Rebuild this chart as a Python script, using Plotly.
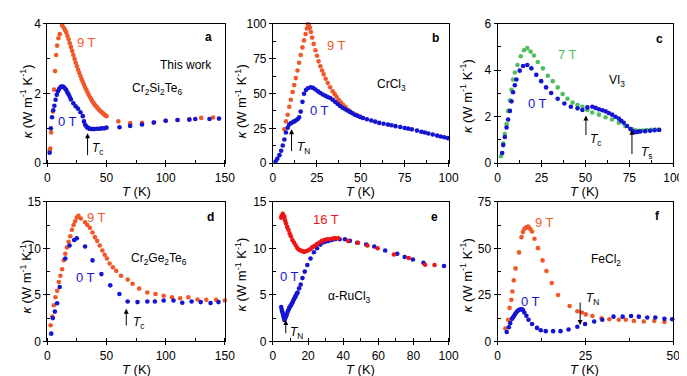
import plotly.graph_objects as go

# ---------------- data ----------------
# a: Cr2Si2Te6
a_T9 = [2, 2.5, 3.3, 4.7, 5.8, 6.6, 7.5, 8.3, 9.4, 10.5, 12.5, 14, 15, 16, 17, 18, 19, 20, 21, 22, 23, 24, 25, 26, 27, 28, 29, 30,
        31, 32, 33, 34, 35, 36, 37, 38, 39, 40, 41, 42, 43, 44, 45, 46, 47, 48, 49, 50, 60, 70, 80, 90, 100, 110, 120, 130, 140]
a_K9 = [0.36, 0.42, 0.88, 1.48, 2.11, 2.64, 3.1, 3.37, 3.58, 3.7, 3.95, 3.88, 3.82, 3.75, 3.65, 3.55, 3.44, 3.33, 3.22, 3.1, 2.99, 2.88, 2.78,
        2.68, 2.59, 2.5, 2.41, 2.33, 2.25, 2.17, 2.1, 2.03, 1.96, 1.9, 1.84, 1.78, 1.73, 1.68, 1.64, 1.6, 1.56, 1.52, 1.49, 1.46,
        1.43, 1.4, 1.37, 1.35, 1.2, 1.15, 1.16, 1.17, 1.22, 1.24, 1.26, 1.3, 1.31]
a_T0 = [2, 3, 4, 5, 6, 7, 8, 9, 10, 11, 12, 13, 14, 15, 16, 17, 18, 19, 20, 22, 24, 26, 28, 30, 31, 32, 33, 34, 35, 36, 37, 38,
        39, 40, 42, 44, 46, 48, 50, 61, 70, 80, 90, 100, 110, 120, 125, 137, 145]
a_K0 = [0.3, 1.0, 1.32, 1.52, 1.65, 1.82, 1.96, 2.06, 2.13, 2.18, 2.2, 2.2, 2.18, 2.14, 2.1, 2.03, 1.97, 1.9, 1.83, 1.72, 1.63, 1.56,
        1.46, 1.35, 1.2, 1.1, 1.05, 1.02, 1.0, 0.99, 0.98, 0.98, 0.98, 0.98, 0.99, 0.99, 1.0, 1.0, 1.02, 1.03, 1.07, 1.11, 1.17,
        1.22, 1.24, 1.25, 1.27, 1.27, 1.28]

# b: CrCl3
b_T9 = [6.5, 7.4, 8.4, 9.3, 10.2, 11.2, 12.1, 13, 14, 14.9, 15.8, 16.8, 17.7, 18.6, 19.3, 19.9, 20.5, 21, 21.6, 22.3, 23.2, 24.2,
        25.1, 26, 27, 28, 28.9, 30, 31.2, 32.6, 34, 35.2, 36.3, 37.5, 38.8, 40, 41.4, 42.8, 44, 45.5, 47.5, 49.2, 51.2]
b_K9 = [24.3, 30, 34.7, 40.5, 45.5, 51, 56, 61, 66.5, 72, 77.5, 83, 88, 92.6, 96.5, 99.5, 98.5, 97, 94, 90, 85.5, 81, 77, 73, 69.5,
        66.5, 63.7, 60.5, 57.5, 54.4, 51.5, 49.5, 47.5, 45.3, 43.5, 41.7, 40, 38.2, 37, 35.8, 34.7, 33.5, 32.4]
b_T0 = [1.5, 2.5, 3.7, 4.7, 5.6, 6.5, 7.4, 8.4, 9.3, 10.2, 11.2, 12.1, 13, 14, 14.9, 15.8, 16.8, 17.7, 18.8, 19.9, 21.4, 22.8, 24.2,
        25.6, 27, 28.4, 29.8, 31.2, 32.6, 34, 35.4, 36.8, 38.2, 39.6, 41, 42.4, 43.8, 45.2, 46.6, 48, 49.6, 51.2, 53.5, 56, 58.2,
        60.5, 63, 65.5, 67.5, 69.8, 72.5, 75, 77, 79.1, 82, 84.5, 86.5, 88.5, 91, 93.5, 95.5, 97.5, 99.6]
b_K0 = [1.2, 3.2, 5.8, 9, 12.7, 17, 22, 25.5, 27.8, 28.7, 29.4, 30, 30.6, 31.5, 32.9, 37, 44, 49.8, 52.5, 53.7, 54.4, 54, 52.8,
        51.5, 50.3, 49.3, 48.3, 47.5, 46.8, 45.5, 44, 42.5, 41, 39.8, 38.8, 37.8, 36.8, 35.8, 34.8, 34, 33.2, 32.4, 31.5, 30.6,
        29.8, 28.9, 28.3, 27.7, 27.2, 26.6, 26, 25.3, 24.8, 24.3, 23.4, 22.6, 22, 21.3, 20.6, 19.8, 19.2, 18.6, 18]

# c: VI3
c_T7 = [1.9, 3.2, 4.1, 5.1, 6, 7, 7.9, 8.8, 9.8, 11.3, 13.2, 15, 16.9, 18.8, 20.7, 22.9, 25.8, 28.6, 31.4, 34.2, 37, 39.8, 42.7,
        45.5, 48.3, 51.1, 53.9, 57.7, 61.5, 65.2, 69, 72.7, 76.5, 78.5, 80.3, 82.5, 85, 87.5, 89.7, 92]
c_K7 = [0.3, 0.85, 1.26, 1.68, 2.25, 2.7, 3.16, 3.6, 3.9, 4.22, 4.6, 4.86, 4.95, 4.8, 4.63, 4.35, 4.08, 3.76, 3.53, 3.26, 2.98,
        2.77, 2.61, 2.5, 2.43, 2.29, 2.18, 2.09, 1.98, 1.88, 1.74, 1.6, 1.47, 1.42, 1.4, 1.41, 1.43, 1.44, 1.45, 1.45]
c_T0 = [2.6, 3.2, 4.1, 5.1, 6, 7, 7.9, 8.8, 9.8, 10.7, 12.6, 14.5, 16.9, 19.2, 22, 24.8, 27.6, 30.5, 34.2, 38, 41.7, 45.5, 48.3,
        51.1, 53.9, 55.8, 57.7, 59.6, 61.5, 63.3, 65.2, 67.1, 69, 70.4, 71.8, 73.7, 75.6, 77, 78.4, 79.8, 81.2, 84, 86.8, 89.4, 92]
c_K0 = [0.44, 0.78, 1.13, 1.54, 1.88, 2.25, 2.66, 3.05, 3.35, 3.6, 3.98, 4.18, 4.22, 4.08, 3.8, 3.53, 3.26, 3.02, 2.77, 2.57, 2.43,
        2.36, 2.29, 2.4, 2.43, 2.38, 2.32, 2.28, 2.23, 2.16, 2.09, 2.0, 1.92, 1.83, 1.74, 1.6, 1.47, 1.38, 1.33, 1.35, 1.37, 1.38,
        1.4, 1.42, 1.43]

# d: Cr2Ge2Te6
d_T9 = [2.8, 4.2, 5.5, 6.9, 8.3, 9.7, 11.1, 12.5, 13.9, 15.2, 16.6, 18, 19.4, 20.8, 22.2, 23.5, 24.9, 26.3, 28.3, 31.9, 33.8, 36,
        38.2, 40.2, 42.1, 44.3, 46.5, 48.5, 50.4, 52.6, 55.4, 58.2, 62.3, 67.9, 72, 77.6, 84.5, 91.4, 98.3, 105.3, 112.2, 119.1,
        126.9, 134.3, 142.6, 150]
d_K9 = [1.73, 2.66, 3.88, 4.74, 5.43, 6.37, 7.06, 7.75, 8.72, 9.41, 10.1, 10.7, 11.3, 12, 12.5, 12.9, 13.3, 13.5, 13.2, 12.8, 12.5,
        12.2, 11.7, 11.2, 10.8, 10.3, 9.76, 9.3, 8.9, 8.37, 7.96, 7.58, 7.06, 6.64, 6.19, 5.67, 5.26, 5.09, 4.91, 4.74, 4.64, 4.74,
        4.5, 4.46, 4.46, 4.39]
d_T0 = [3.3, 4.7, 6.4, 8.3, 10.5, 15.2, 18.8, 22.7, 24.9, 31.9, 38.2, 45.7, 53.2, 60.9, 67.9, 76.2, 84.5, 90.9, 98.3, 106.6, 114,
        121.9, 129.6, 137.9, 144.6]
d_K0 = [0.83, 2.5, 3.2, 4.1, 5.85, 8.9, 10.3, 10.9, 11.07, 10.2, 8.7, 7.23, 6.02, 5.09, 4.29, 4.22, 4.29, 4.29, 4.39, 4.39, 4.15,
        4.29, 4.22, 4.12, 4.22]

# e: alpha-RuCl3
e_T16 = [4.7, 5.0, 5.3, 5.6, 5.9, 6.2, 6.5, 6.9, 7.4, 8.1, 8.8, 9.5, 10.2, 11.1, 12.1, 13, 14, 14.9, 15.8, 16.8, 17.7, 18.8, 19.9,
         21.1, 22.3, 23.7, 25.1, 26.5, 27.9, 29.3, 30.7, 32.6, 34.5, 35.8, 37.2, 42.8, 48.4, 53.8, 59.6, 68.9, 77.3, 86.6, 92]
e_K16 = [13.3, 13.5, 13.4, 13.7, 13.5, 13.3, 13.4, 13.0, 12.7, 12.3, 12.0, 11.6, 11.3, 10.9, 10.6, 10.3, 10.0, 9.85, 9.76, 9.68,
         9.62, 9.68, 9.76, 9.9, 10.1, 10.27, 10.45, 10.62, 10.8, 10.9, 10.97, 11.0, 11.07, 11.07, 11.07, 10.8, 10.6, 10.3, 10.0,
         9.34, 8.96, 8.24, 8.2]
e_T0 = [4.7, 5.0, 5.3, 5.6, 5.9, 6.2, 6.5, 6.9, 7.4, 7.9, 8.4, 8.9, 9.3, 9.8, 10.2, 10.7, 11.2, 11.6, 12.1, 12.6, 13, 13.5, 14,
        14.9, 15.8, 16.8, 18.1, 19.6, 21.4, 23.3, 25.1, 27, 28.9, 30.3, 31.7, 33.5, 35.4, 38, 41, 43.8, 48, 53.1, 57.7, 63.9,
        70.8, 75, 79.7, 85.7, 97.4]
e_K0 = [3.7, 3.4, 3.2, 3.0, 2.75, 2.5, 2.3, 2.45, 2.66, 2.9, 3.18, 3.4, 3.6, 3.75, 3.88, 4.05, 4.2, 4.4, 4.57, 4.75, 4.9, 5.1, 5.26,
        5.7, 6.1, 6.8, 7.5, 8.2, 8.9, 9.58, 10.0, 10.4, 10.66, 10.75, 10.8, 10.9, 10.97, 10.97, 10.97, 10.8, 10.6, 10.4, 10.2, 9.76,
        9.41, 9.06, 8.79, 8.44, 8.1]

# f: FeCl2
f_T9 = [2.2, 3.0, 3.4, 3.9, 4.2, 4.6, 5.1, 6.1, 6.8, 7.2, 7.6, 8.0, 8.3, 8.6, 8.8, 9.3, 9.8, 10.5, 11.5, 12.8, 13.9, 15.4, 17.2,
        20.5, 22.7, 24.0, 25.1, 27.0, 29.6, 31.8, 34.5, 36.5, 38.8, 41.6, 44.6, 47.5]
f_K9 = [6.9, 11.6, 18, 22.3, 26.8, 32.8, 39.2, 47.8, 56, 58.7, 60.4, 61, 61.3, 61.5, 61.5, 60.4, 59, 55.1, 50.1, 43.5, 37.8, 31.4,
        24.9, 19, 16.2, 15.5, 14.5, 13.6, 12.4, 11.9, 11.6, 11.6, 11, 10.7, 11, 10.4]
f_T0 = [2.6, 3.2, 3.6, 4.1, 4.4, 4.7, 5.0, 5.3, 5.6, 6.0, 6.5, 6.9, 7.2, 7.6, 8.2, 8.8, 9.8, 11.2, 12.3, 13.7, 15.8, 17.9, 20.2,
        22.7, 24.9, 27.5, 29.8, 33, 35.6, 38, 40.2, 42.6, 44.9, 47.5, 49.7]
f_K0 = [5, 7.6, 9.8, 12.1, 13.0, 13.8, 14.7, 15.5, 16.2, 16.8, 17.3, 17.2, 16.8, 15.5, 13.8, 11.6, 9.3, 7.25, 6.0, 5.5, 5.5, 5.5,
        6.4, 7.9, 9.3, 10.7, 11.6, 13.3, 13.3, 13.6, 13.3, 12.8, 12.8, 12.1, 11.9]

ORANGE = "#F0582A"
BLUE = "#1414D2"
GREEN = "#4FBF5E"
RED = "#EE1515"
FONT = "Arial, Liberation Sans, sans-serif"

W, H = 687, 376


def px_x(p):
    return p / W


def px_y(p):
    return 1 - p / H


panels = [
    # (xdomain px, ydomain px, xrange, xticks, yrange, yticks)
    ((37, 218), (9, 154), [0, 150], [0, 50, 100, 150], [0, 4], [0, 2, 4]),
    ((267, 446), (9, 154), [0, 100], [0, 25, 50, 75, 100], [0, 100], [0, 25, 50, 75, 100]),
    ((496, 675), (9, 154), [0, 100], [0, 25, 50, 75, 100], [0, 6], [0, 2, 4, 6]),
    ((37, 218), (194, 339), [0, 150], [0, 50, 100, 150], [0, 15], [0, 5, 10, 15]),
    ((267, 446), (194, 339), [0, 100], [0, 20, 40, 60, 80, 100], [0, 15], [0, 5, 10, 15]),
    ((496, 675), (194, 339), [0, 50], [0, 25, 50], [0, 75], [0, 25, 50, 75]),
]
# axis-title pixel positions: (x-title center x, x-title y, y-title x, y-title y)
titles = [
    (128, 183, 15, 90),
    (356, 183, 234, 90),
    (585, 183, 464, 84),
    (128, 368, 15, 272),
    (356, 368, 234, 270),
    (585, 368, 464, 270),
]

series = [
    [(a_T9, a_K9, ORANGE), (a_T0, a_K0, BLUE)],
    [(b_T9, b_K9, ORANGE), (b_T0, b_K0, BLUE)],
    [(c_T7, c_K7, GREEN), (c_T0, c_K0, BLUE)],
    [(d_T9, d_K9, ORANGE), (d_T0, d_K0, BLUE)],
    [(e_T0, e_K0, BLUE), (e_T16, e_K16, RED)],
    [(f_T9, f_K9, ORANGE), (f_T0, f_K0, BLUE)],
]

fig = go.Figure()
layout = dict(width=W, height=H, margin=dict(l=0, r=0, t=0, b=0), paper_bgcolor="white", plot_bgcolor="white",
              showlegend=False, font=dict(family=FONT, size=12, color="black"))

YTITLE = "<i>κ</i> (W m<sup>-1</sup> K<sup>-1</sup>)"
XTITLE = "<i>T</i> (K)"

anns = []

for i, (xd, yd, xr, xt, yr, yt) in enumerate(panels):
    n = "" if i == 0 else str(i + 1)
    xa = dict(domain=[px_x(xd[0]), px_x(xd[1])], range=xr, tickvals=xt, showline=True, mirror=True, linecolor="black",
              linewidth=1, ticks="outside", ticklen=3, tickcolor="black", showgrid=False, zeroline=False,
              anchor="y" + n, tickfont=dict(size=12),
              minor=dict(ticks="inside", ticklen=3, tickcolor="black", dtick=(xt[1] - xt[0]) / 2, tick0=0, showgrid=False))
    ya = dict(domain=[px_y(yd[1]), px_y(yd[0])], range=yr, tickvals=yt, showline=True, mirror=True, linecolor="black",
              linewidth=1, ticks="outside", ticklen=3, tickcolor="black", showgrid=False, zeroline=False,
              anchor="x" + n, tickfont=dict(size=12),
              minor=dict(ticks="inside", ticklen=3, tickcolor="black", dtick=(yt[1] - yt[0]) / 2, tick0=0, showgrid=False))
    layout["xaxis" + n] = xa
    layout["yaxis" + n] = ya
    tx, ty, yx, yy = titles[i]
    anns.append(dict(x=px_x(tx), y=px_y(ty), xref="paper", yref="paper", text=XTITLE, showarrow=False,
                     font=dict(size=13, family=FONT), xanchor="center", yanchor="middle"))
    anns.append(dict(x=px_x(yx), y=px_y(yy), xref="paper", yref="paper", text=YTITLE, showarrow=False, textangle=-90,
                     font=dict(size=13, family=FONT), xanchor="center", yanchor="middle"))
    for (xs, ys, col) in series[i]:
        fig.add_trace(go.Scatter(x=xs, y=ys, mode="markers", xaxis="x" + n, yaxis="y" + n,
                                 marker=dict(color=col, size=4.6, line=dict(width=0)), cliponaxis=False))


def txt(ax, x, y, text, color="black", size=12, xanchor="center"):
    n = "" if ax == 1 else str(ax)
    anns.append(dict(x=x, y=y, xref="x" + n, yref="y" + n, text=text, showarrow=False,
                     font=dict(color=color, size=size, family=FONT), xanchor=xanchor, yanchor="middle"))


def arrow(ax, x, y0, y1):
    n = "" if ax == 1 else str(ax)
    anns.append(dict(x=x, y=y1, ax=x, ay=y0, xref="x" + n, yref="y" + n, axref="x" + n, ayref="y" + n, text="",
                     showarrow=True, arrowhead=2, arrowsize=1, arrowwidth=1, arrowcolor="black"))


# a
txt(1, 33, 3.45, "9 T", ORANGE, 13)
txt(1, 117, 2.81, "This work")
txt(1, 92.5, 2.12, "Cr<sub>2</sub>Si<sub>2</sub>Te<sub>6</sub>")
txt(1, 16.7, 1.21, "0 T", BLUE, 13)
arrow(1, 34, 0.19, 0.86)
txt(1, 36, 0.42, "<i>T</i><sub>c</sub>", xanchor="left")
txt(1, 136, 3.61, "<b>a</b>")
# b
txt(2, 36.3, 84.7, "9 T", ORANGE, 13)
txt(2, 67.6, 56, "CrCl<sub>3</sub>")
txt(2, 26.3, 38, "0 T", BLUE, 13)
arrow(2, 10.6, 7.6, 24.3)
txt(2, 12.3, 11, "<i>T</i><sub>N</sub>", xanchor="left")
txt(2, 92.7, 89.6, "<b>b</b>")
# c
txt(3, 39.7, 4.69, "7 T", GREEN, 13)
txt(3, 68.2, 3.53, "VI<sub>3</sub>")
txt(3, 22.9, 2.55, "0 T", BLUE, 13)
arrow(3, 50.3, 1.15, 2.05)
txt(3, 51.4, 0.99, "<i>T</i><sub>c</sub>", xanchor="left")
arrow(3, 76.5, 0.33, 1.44)
txt(3, 80.4, 0.45, "<i>T</i><sub>s</sub>", xanchor="left")
txt(3, 92.2, 5.34, "<b>c</b>")
# d
txt(4, 41.7, 13.3, "9 T", ORANGE, 13)
txt(4, 94, 8.9, "Cr<sub>2</sub>Ge<sub>2</sub>Te<sub>6</sub>")
txt(4, 32.5, 6.9, "0 T", BLUE, 13)
arrow(4, 66.7, 1.55, 3.5)
txt(4, 70.8, 1.97, "<i>T</i><sub>c</sub>", xanchor="left")
txt(4, 137.5, 13.4, "<b>d</b>")
# e
txt(5, 30.2, 13.1, "16 T", RED, 13)
txt(5, 9.5, 7.0, "0 T", BLUE, 13)
txt(5, 43.6, 4.76, "α-RuCl<sub>3</sub>")
arrow(5, 7.3, 0.72, 2.3)
txt(5, 8.4, 0.93, "<i>T</i><sub>N</sub>", xanchor="left")
txt(5, 92.2, 13.4, "<b>e</b>")
# f
txt(6, 13.4, 63.6, "9 T", ORANGE, 13)
txt(6, 31, 43.5, "FeCl<sub>2</sub>")
txt(6, 9.5, 21.2, "0 T", BLUE, 13)
arrow(6, 23.5, 21.7, 8.8)
txt(6, 24.6, 22.5, "<i>T</i><sub>N</sub>", xanchor="left")
txt(6, 45.5, 67.3, "<b>f</b>")

layout["annotations"] = anns
fig.update_layout(**layout)
fig.write_html("out.html")
